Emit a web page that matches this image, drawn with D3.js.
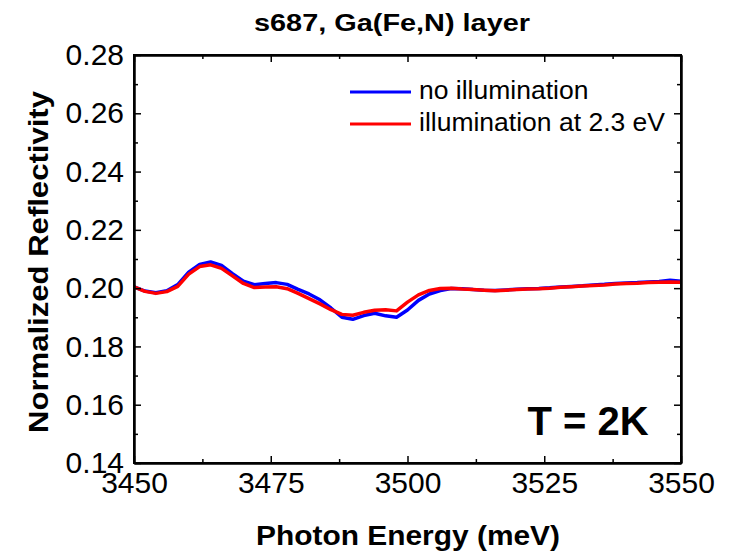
<!DOCTYPE html>
<html>
<head>
<meta charset="utf-8">
<script src="https://cdn.jsdelivr.net/npm/d3@7"></script>
<style>
  body { margin: 0; background: #fff; }
  svg { display: block; font-family: "Liberation Sans", Arial, sans-serif; }
</style>
</head>
<body>
<svg id="chart" width="732" height="554"></svg>
<script>
// --- data ---
const energy = [3450, 3452, 3454, 3456, 3458, 3460, 3462, 3464, 3466, 3468,
  3470, 3472, 3474, 3476, 3478, 3480, 3482, 3484, 3486, 3488,
  3490, 3492, 3494, 3496, 3498, 3500, 3502, 3504, 3506, 3508,
  3510, 3512, 3514, 3516, 3518, 3520, 3522, 3524, 3526, 3528,
  3530, 3532, 3534, 3536, 3538, 3540, 3542, 3544, 3546, 3548, 3550];

const noIllum = [0.2004, 0.1990, 0.1984, 0.1991, 0.2012, 0.2055, 0.2081, 0.2090, 0.2078, 0.2050,
  0.2024, 0.2012, 0.2016, 0.2019, 0.2013, 0.1996, 0.1980, 0.1960, 0.1932, 0.1900,
  0.1893, 0.1906, 0.1914, 0.1905, 0.1900, 0.1925, 0.1958, 0.1980, 0.1992, 0.1999,
  0.1998, 0.1995, 0.1993, 0.1992, 0.1994, 0.1996, 0.1998, 0.1999, 0.2001, 0.2004,
  0.2006, 0.2008, 0.2011, 0.2013, 0.2016, 0.2018, 0.2019, 0.2021, 0.2023, 0.2027, 0.2024];

const illum23 = [0.2004, 0.1989, 0.1982, 0.1988, 0.2006, 0.2048, 0.2074, 0.2080, 0.2068, 0.2042,
  0.2016, 0.2002, 0.2004, 0.2005, 0.1998, 0.1982, 0.1964, 0.1946, 0.1926, 0.1910,
  0.1907, 0.1917, 0.1924, 0.1926, 0.1922, 0.1952, 0.1977, 0.1992, 0.1999, 0.2000,
  0.1997, 0.1995, 0.1993, 0.1991, 0.1993, 0.1995, 0.1997, 0.1998, 0.2000, 0.2003,
  0.2005, 0.2007, 0.2009, 0.2011, 0.2014, 0.2016, 0.2017, 0.2019, 0.2020, 0.2021, 0.2020];

const xTicks = [3450, 3475, 3500, 3525, 3550];
const xMinor = [3462.5, 3487.5, 3512.5, 3537.5];
const yTicks = [0.14, 0.16, 0.18, 0.20, 0.22, 0.24, 0.26, 0.28];
const yMinor = [0.15, 0.17, 0.19, 0.21, 0.23, 0.25, 0.27];

const seriesNames = ["no illumination", "illumination at 2.3 eV"];
const seriesColors = ["#0000ff", "#ff0000"];

// --- layout ---
const svg = d3.select("#chart");
const W = 732, H = 554;
const m = { left: 134, right: 51, top: 55, bottom: 91 };

const x = d3.scaleLinear().domain([3450, 3550]).range([m.left, W - m.right]);
const y = d3.scaleLinear().domain([0.14, 0.28]).range([H - m.bottom, m.top]);

svg.append("rect").attr("width", W).attr("height", H).attr("fill", "#fff");

// curves (blue under red)
const line = d3.line()
  .x((d, i) => x(energy[i]))
  .y(d => y(d));

[noIllum, illum23].forEach((s, k) => {
  svg.append("path")
    .datum(s)
    .attr("d", line)
    .attr("fill", "none")
    .attr("stroke", seriesColors[k])
    .attr("stroke-width", 3.5)
    .attr("stroke-linejoin", "round");
});

// axes, ticks point inward, mirrored on top/right
const fmtY = d3.format(".2f");

svg.append("g")
  .attr("transform", `translate(0,${H - m.bottom})`)
  .call(d3.axisBottom(x).tickValues(xTicks).tickSizeInner(-7).tickSizeOuter(0).tickPadding(9).tickFormat(d3.format("d")));

svg.append("g")
  .attr("transform", `translate(${m.left},0)`)
  .call(d3.axisLeft(y).tickValues(yTicks).tickSizeInner(-7).tickSizeOuter(0).tickPadding(10).tickFormat(fmtY));

svg.append("g")
  .attr("transform", `translate(0,${m.top})`)
  .call(d3.axisTop(x).tickValues(xTicks).tickSizeInner(-7).tickSizeOuter(0).tickFormat(""));

svg.append("g")
  .attr("transform", `translate(${W - m.right},0)`)
  .call(d3.axisRight(y).tickValues(yTicks).tickSizeInner(-7).tickSizeOuter(0).tickFormat(""));

// minor ticks
svg.append("g")
  .attr("transform", `translate(0,${H - m.bottom})`)
  .call(d3.axisBottom(x).tickValues(xMinor).tickSizeInner(-4).tickSizeOuter(0).tickFormat(""));
svg.append("g")
  .attr("transform", `translate(0,${m.top})`)
  .call(d3.axisTop(x).tickValues(xMinor).tickSizeInner(-4).tickSizeOuter(0).tickFormat(""));
svg.append("g")
  .attr("transform", `translate(${m.left},0)`)
  .call(d3.axisLeft(y).tickValues(yMinor).tickSizeInner(-4).tickSizeOuter(0).tickFormat(""));
svg.append("g")
  .attr("transform", `translate(${W - m.right},0)`)
  .call(d3.axisRight(y).tickValues(yMinor).tickSizeInner(-4).tickSizeOuter(0).tickFormat(""));

svg.selectAll(".domain").attr("stroke", "#000").attr("stroke-width", 2);
svg.selectAll(".tick line").attr("stroke", "#000").attr("stroke-width", 1.5);
svg.selectAll(".tick text")
  .attr("fill", "#000")
  .style("font-family", "'Liberation Sans', Arial, sans-serif")
  .style("font-size", "30px");

// frame
svg.append("rect")
  .attr("x", m.left).attr("y", m.top)
  .attr("width", W - m.left - m.right).attr("height", H - m.top - m.bottom)
  .attr("fill", "none").attr("stroke", "#000").attr("stroke-width", 2);

// titles
svg.append("text")
  .attr("x", 392).attr("y", 31)
  .attr("text-anchor", "middle")
  .attr("textLength", 276).attr("lengthAdjust", "spacingAndGlyphs")
  .style("font-size", "23px").style("font-weight", "bold")
  .text("s687, Ga(Fe,N) layer");

svg.append("text")
  .attr("x", 408).attr("y", 545)
  .attr("text-anchor", "middle")
  .attr("textLength", 304).attr("lengthAdjust", "spacingAndGlyphs")
  .style("font-size", "27px").style("font-weight", "bold")
  .text("Photon Energy (meV)");

svg.append("text")
  .attr("transform", "translate(48,262) rotate(-90)")
  .attr("text-anchor", "middle")
  .attr("textLength", 342).attr("lengthAdjust", "spacingAndGlyphs")
  .style("font-size", "28px").style("font-weight", "bold")
  .text("Normalized Reflectivity");

svg.append("text")
  .attr("x", 588).attr("y", 435)
  .attr("text-anchor", "middle")
  .style("font-size", "40px").style("font-weight", "bold")
  .text("T = 2K");

// legend
const legend = svg.append("g");
seriesNames.forEach((name, k) => {
  const ly = 92 + k * 32;
  legend.append("line")
    .attr("x1", 350).attr("x2", 411).attr("y1", ly).attr("y2", ly)
    .attr("stroke", seriesColors[k]).attr("stroke-width", 3);
  legend.append("text")
    .attr("x", 419).attr("y", ly + 7)
    .style("font-size", "26.5px")
    .text(name);
});
</script>
</body>
</html>
